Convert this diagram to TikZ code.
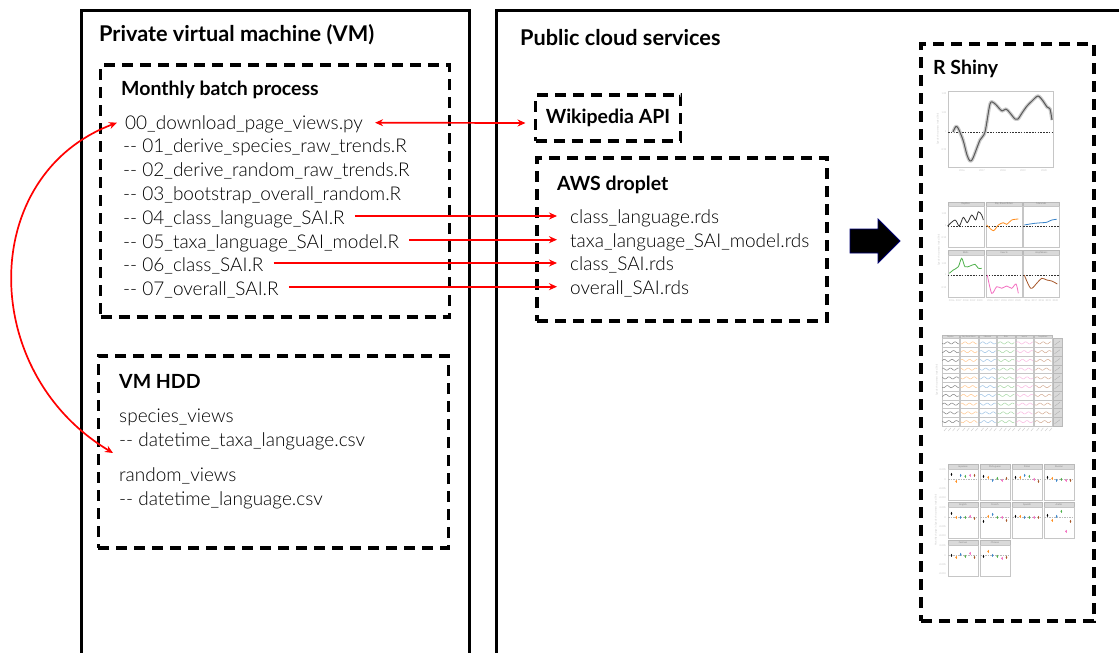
\documentclass[tikz,border=0pt]{standalone}
\usepackage{fontspec}
\IfFontExistsTF{Lato Light}{%
  \newfontfamily\bodyface{Lato Light}%
  \newfontfamily\headface{Lato}[UprightFont={* Bold}]%
}{%
  \newfontfamily\bodyface{Liberation Sans}%
  \newfontfamily\headface{Liberation Sans}[UprightFont={* Bold}]%
}
\usetikzlibrary{arrows.meta}
\definecolor{sorange}{HTML}{FF8C1A}
\definecolor{sblue}{HTML}{3A84C9}
\definecolor{sgreen}{HTML}{4DB04A}
\definecolor{spink}{HTML}{F46FC1}
\definecolor{sbrown}{HTML}{A65628}
\newcommand{\bodyfont}{\bodyface\fontsize{19}{23}\selectfont}
\newcommand{\headfont}{\headface\fontsize{19.5}{24}\selectfont}
\newcommand{\titlefont}{\headface\fontsize{21.7}{26}\selectfont}
\newcommand{\tinyfont}{\bodyface\fontsize{2.4}{2.6}\selectfont}
\begin{document}
\begin{tikzpicture}[x=1pt,y=-1pt,
  solidbox/.style={line width=3pt, line cap=rect},
  dbox/.style={draw, line width=3.2pt, dash pattern=on 11pt off 7pt, rectangle, outer sep=0pt, inner sep=0pt},
  body/.style={anchor=base west, inner sep=0pt, font=\bodyfont, text=black},
  head/.style={anchor=base west, inner sep=0pt, font=\headfont},
  title/.style={anchor=base west, inner sep=0pt, font=\titlefont},
  link/.style={draw=red, line width=1.7pt, -{Stealth[length=8pt,width=7pt]}},
  dlink/.style={draw=red, line width=1.7pt, {Stealth[length=8pt,width=7pt]}-{Stealth[length=8pt,width=7pt]}},
  tick/.style={inner sep=0pt, font=\tinyfont, text=gray!80},
  strip/.style={fill=gray!30, draw=gray!55, line width=0.3pt},
  panel/.style={fill=white, draw=gray!45, line width=0.3pt},
  zero/.style={black!80, line width=0.7pt, dash pattern=on 1.6pt off 1.2pt},
]
\useasboundingbox (0,0) rectangle (1119,653);
\fill[white] (0,0) rectangle (1119,653);

% outer solid boxes
\draw[solidbox] (81,660) -- (81,10) -- (469,10) -- (469,660);
\draw[solidbox] (496,660) -- (496,10) -- (1125,10);
\node[title] (tvm) at (99,41.5) {Private virtual machine (VM)};
\node[title] (tcloud) at (520,45) {Public cloud services};

% monthly batch process
\node[dbox, anchor=north west, minimum width=349pt, minimum height=252pt] (mbox) at (100.5,65) {};
\node[head] (tmb) at (121,95) {Monthly batch process};
\node[body] (l0) at (125,129.2) {00\_download\_page\_views.py};
\node[body] (l1) at (123,152.9) {-- 01\_derive\_species\_raw\_trends.R};
\node[body] (l2) at (123,176.6) {-- 02\_derive\_random\_raw\_trends.R};
\node[body] (l3) at (123,200.3) {-- 03\_bootstrap\_overall\_random.R};
\node[body] (l4) at (123,224.5) {-- 04\_class\_language\_SAI.R};
\node[body] (l5) at (123,248.2) {-- 05\_taxa\_language\_SAI\_model.R};
\node[body] (l6) at (123,271.5) {-- 06\_class\_SAI.R};
\node[body] (l7) at (123,295.2) {-- 07\_overall\_SAI.R};

% VM HDD
\node[dbox, anchor=north west, minimum width=350pt, minimum height=192pt] (hbox) at (98.3,356) {};
\node[head] (thdd) at (119,388.5) {VM HDD};
\node[body] (h0) at (119,422.5) {species\_views};
\node[body] (h1) at (119,446.5) {-- datetime\_taxa\_language.csv};
\node[body] (h2) at (119,481.5) {random\_views};
\node[body] (h3) at (119,505) {-- datetime\_language.csv};

% Wikipedia API
\node[dbox, minimum width=145pt, minimum height=46pt, font=\headfont] (wiki) at (608,118) {Wikipedia API};

% AWS droplet
\node[dbox, anchor=north west, minimum width=290pt, minimum height=163pt] (abox) at (537,158) {};
\node[head] (taws) at (557,190) {AWS droplet};
\node[body] (r0) at (570,223.5) {class\_language.rds};
\node[body] (r1) at (570,247.2) {taxa\_language\_SAI\_model.rds};
\node[body] (r2) at (570,270.5) {class\_SAI.rds};
\node[body] (r3) at (570,294.2) {overall\_SAI.rds};

% connectors
\draw[dlink] ([xshift=12pt,yshift=6.5pt]l0.base east) -- ([xshift=-10pt,yshift=-5pt]wiki.west);
\draw[link] ([xshift=10pt,yshift=8.5pt]l4.base east) -- ([xshift=-13pt,yshift=7.5pt]r0.base west);
\draw[link] ([xshift=10pt,yshift=8.5pt]l5.base east) -- ([xshift=-13pt,yshift=7.5pt]r1.base west);
\draw[link] ([xshift=10pt,yshift=8.5pt]l6.base east) -- ([xshift=-13pt,yshift=7.5pt]r2.base west);
\draw[link] ([xshift=10pt,yshift=8.5pt]l7.base east) -- ([xshift=-13pt,yshift=7.5pt]r3.base west);
\draw[dlink] ([xshift=-8pt,yshift=6.5pt]l0.base west) .. controls (-22,175) and (-22,372) .. ([xshift=-6pt,yshift=-6.5pt]h1.base west);

% block arrow
\fill[black, draw=blue!45!black, line width=0.8pt] (850,229) -- (878,229) -- (878,219) -- (900,241) -- (878,263) -- (878,253) -- (850,253) -- cycle;

% R Shiny
\node[dbox, anchor=north west, minimum width=173pt, minimum height=577pt] (sbox) at (921,44) {};
\node[head] (tshiny) at (933,74) {R Shiny};

% ---- plot 1
\draw[panel] (948,91) rectangle (1053,167);
\draw[zero] (948,132) -- (1053,132);
\draw[gray!40, line width=3.5pt, line join=round] plot[smooth] coordinates {(953,132) (955.7,126.7) (958,128) (963,140) (967,155) (970,161) (973,158) (980,140) (985,132) (990,104) (994,103) (998,107) (1002,111) (1006,109) (1010,113) (1015,119) (1018,119) (1022,113) (1027,106) (1032,101) (1038,96) (1043,101) (1047,107) (1050,109) (1052,120)};
\draw[black!65, line width=1pt, line join=round] plot[smooth] coordinates {(953,132) (955.7,126.7) (958,128) (963,140) (967,155) (970,161) (973,158) (980,140) (985,132) (990,104) (994,103) (998,107) (1002,111) (1006,109) (1010,113) (1015,119) (1018,119) (1022,113) (1027,106) (1032,101) (1038,96) (1043,101) (1047,107) (1050,109) (1052,120)};
\node[tick, rotate=90] (p1y) at (938,129) {Species Awareness Index (SAI)};
\foreach \ty/\tl in {94/1.02,113/1.01,132/1,150/0.99} {\node[tick, anchor=east] at (946.5,\ty) {\tl};}
\foreach \tx/\tl in {962/2016,982/2017,1003/2018,1023/2019,1044/2020} {\node[tick] at (\tx,170.5) {\tl};}

% ---- plot 2
\foreach \cx/\lab in {947.7/Reptiles,986/Ray-finned fishes,1023.3/Mammals} {
  \draw[strip] (\cx,201.7) rectangle ++(36,4);
  \node[tick, text=black!70] at (\cx+18,203.7) {\lab};
  \draw[panel] (\cx,205.7) rectangle ++(36,41);
}
\foreach \cx/\lab in {947.7/Birds,986/Insects,1023.3/Amphibians} {
  \draw[strip] (\cx,250.5) rectangle ++(36,4.5);
  \node[tick, text=black!70] at (\cx+18,252.7) {\lab};
  \draw[panel] (\cx,255) rectangle ++(36,42.3);
  \foreach \k in {0,...,4} {\node[tick] at (\cx+4+\k*7,300.5) {\the\numexpr2016+\k\relax};}
}
\foreach \cx in {947.7,986,1023.3} {\draw[zero] (\cx,226) -- ++(36,0); \draw[zero] (\cx,275) -- ++(36,0);}
\draw[black!80, line width=0.8pt, line join=round] plot[smooth] coordinates {(947.7,226) (955,220) (959.3,226) (963.3,217.3) (967.3,222.7) (971.7,215) (975.7,220) (978.3,211.7) (981.7,215) (983.3,220)};
\draw[sorange, line width=0.8pt] plot[smooth] coordinates {(986.7,225) (993.3,230.7) (998.3,225) (1003.3,222.7) (1006.7,224.3) (1011.7,220) (1018.3,219)};
\draw[sblue, line width=0.8pt] plot[smooth] coordinates {(1024.3,225) (1030,224) (1035,223.3) (1041.7,222.7) (1046.7,222.3) (1051.7,220) (1056.7,219.3)};
\draw[sgreen, line width=0.8pt] plot[smooth] coordinates {(949.3,273.3) (953.3,270) (958.3,266.7) (961.7,258.3) (965,266.7) (970,266) (975,264.3) (978.3,268.3) (981.7,268.3)};
\draw[spink, line width=0.8pt] plot[smooth] coordinates {(987.3,275) (991.7,293.3) (996.7,286.7) (1001.7,288.3) (1006.7,286) (1011.7,288.3) (1016,284) (1018.3,293.3)};
\draw[sbrown, line width=0.8pt] plot[smooth] coordinates {(1024.3,275) (1030.7,288.3) (1036.7,283.3) (1041.7,278.3) (1046.7,280) (1051.7,281) (1057.3,284)};
\node[tick, rotate=90] (p2y) at (939,250) {Species Awareness Index (SAI)};
\foreach \ty/\tl in {214/1.05,226/1,238/0.95,263.3/1.05,275/1,287.3/0.95} {\node[tick, anchor=east] at (946.5,\ty) {\tl};}

% ---- plot 3
\foreach \c/\col/\lab in {0/black/Reptiles,1/sorange/Ray-finned fishes,2/sblue/Mammals,3/sgreen/Birds,4/spink/Insects,5/sbrown/Amphibians} {
  \pgfmathsetmacro\cx{941.7+\c*18.5}
  \draw[strip] (\cx,335) rectangle ++(17.5,3.3);
  \node[tick, font=\bodyface\fontsize{1.8}{2}\selectfont, text=black!70] at (\cx+8.75,336.7) {\lab};
  \foreach \r in {0,...,9} {
    \pgfmathsetmacro\cy{338.5+\r*8.75}
    \draw[panel] (\cx,\cy) rectangle ++(17.5,8.75);
    \draw[\col!50, line width=0.5pt] plot[domain=0.5:17, samples=16] ({\cx+\x}, {\cy+4.4+1.1*sin(\x*47+\r*73+\c*41)});
  }
}
\foreach \r in {0,...,9} {
  \pgfmathsetmacro\cy{338.5+\r*8.75}
  \draw[strip] (1052.7,\cy) rectangle ++(9,8.75);
  \draw[gray!65, line width=0.35pt] (1054.5,\cy+6.5) -- ++(5.5,-4);
}
\node[tick, rotate=90] (p3y) at (937,380) {Species Awareness Index (SAI)};
\foreach \c in {0,...,5} {\foreach \k in {0,...,3} {\draw[gray!50, line width=0.3pt] (944+\c*18.5+\k*4.3,431) -- ++(2.5,-3);}}

% ---- plot 4
\foreach \px/\py/\lab/\a/\b/\c/\d/\e/\f in {
  948/464/Japanese/-5/2/-4/-3/-4/-4,
  980/464/Portuguese/-3/-2/1/-1/1/-1,
  1012/464/Italian/-2/-2/-4/-3/0/2,
  1044/464/Russian/-2/-1/1/0/1/1,
  948/502/English/-4/0/0/0/-1/1,
  980/502/French/4/-1/-3/0/0/3,
  1012/502/Spanish/-1/-1/0/0/0/0,
  1044/502/Arabic/-2/3/-1/-6/14/4,
  948/540/German/0/2/-1/1/-2/2,
  980/540/Chinese/1/-4/0/1/3/2} {
  \draw[strip] (\px,\py) rectangle ++(30,5);
  \node[tick, text=black!70] at (\px+15,\py+2.6) {\lab};
  \draw[panel] (\px,\py+5) rectangle ++(30,31);
  \draw[gray!55, line width=0.5pt, dash pattern=on 1.5pt off 1pt] (\px,\py+15.3) -- ++(30,0);
  \foreach \k/\dy/\col in {0/\a/black,1/\b/sorange,2/\c/sblue,3/\d/sgreen,4/\e/spink,5/\f/sbrown} {
    \draw[\col!80, line width=0.5pt] (\px+3.5+\k*4.6,\py+15.3+\dy-1.8) -- ++(0,3.6);
    \fill[\col] (\px+3.5+\k*4.6,\py+15.3+\dy) circle (0.9pt);
  }
}
\foreach \py in {464,502,540} {
  \foreach \ty/\tl in {5.3/0.005,15.3/0,24.3/-0.005,33.7/-0.010} {\node[tick, anchor=east] at (946,\py+\ty) {\tl};}
}
\node[tick, rotate=90] (p4y) at (936,520) {Monthly change in Species Awareness Index (SAI)};
\end{tikzpicture}
\end{document}
